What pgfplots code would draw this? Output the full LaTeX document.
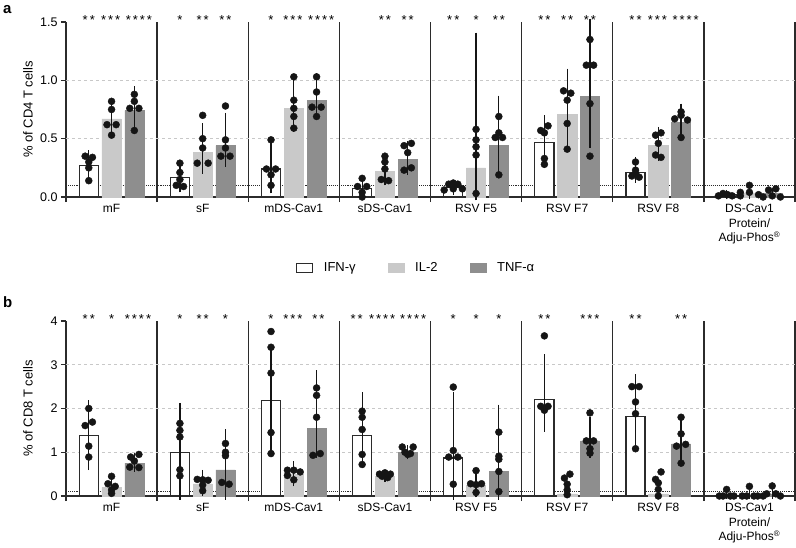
\documentclass[border=0pt]{standalone}
\usepackage{pgfplots}
\pgfplotsset{compat=1.18}
\usepackage{pgfplotstable}
\usepackage{fontspec}
\setmainfont{Liberation Sans}
\definecolor{ilc}{HTML}{C9C9C9}
\definecolor{tnc}{HTML}{8E8E8E}
\definecolor{axc}{HTML}{2B2B2B}
\definecolor{dotc}{HTML}{151515}
\definecolor{gridc}{HTML}{C8C8C8}

% bars: group, mean, error plus, error minus for IFN-g, IL-2, TNF-a
\pgfplotstableread{
g ifn ifnp ifnm il ilp ilm tnf tnfp tnfm
0 0.27 0.10 0.10 0.67 0.12 0.12 0.74 0.18 0.13
1 0.17 0.10 0.10 0.38 0.22 0.15 0.44 0.25 0.15
2 0.24 0.19 0.18 0.76 0.23 0.17 0.83 0.20 0.14
3 0.07 0.06 0.06 0.22 0.11 0.09 0.32 0.13 0.10
4 0.08 0.03 0.03 0.25 1.13 0.25 0.44 0.40 0.20
5 0.47 0.20 0.19 0.71 0.36 0.25 0.86 0.64 0.41
6 0.21 0.10 0.06 0.44 0.13 0.10 0.64 0.13 0.10
7 0.02 0.01 0.01 0.03 0.02 0.02 0.03 0.02 0.02
}\barsA
\pgfplotstableread{
g ifn ifnp ifnm il ilp ilm tnf tnfp tnfm
0 1.39 0.72 0.72 0.20 0.12 0.12 0.75 0.15 0.12
1 0.99 1.06 0.99 0.28 0.24 0.20 0.60 0.85 0.60
2 2.19 1.20 1.15 0.49 0.23 0.19 1.55 1.24 0.60
3 1.39 0.90 0.55 0.45 0.05 0.05 1.00 0.08 0.08
4 0.87 1.43 0.87 0.25 0.20 0.20 0.56 1.45 0.56
5 2.21 0.95 0.66 0.05 0.00 0.00 1.26 0.47 0.30
6 1.82 0.88 0.59 0.05 0.00 0.00 1.19 0.60 0.40
7 0.03 0.02 0.02 0.03 0.02 0.02 0.05 0.03 0.03
}\barsB

% individual animals: group, bar (-1 IFN, 0 IL-2, 1 TNF), jitter, value
\pgfplotstableread{
g b j y
0 -1 -0.04 0.35
0 -1 0.04 0.34
0 -1 0 0.30
0 -1 0 0.25
0 -1 0 0.14
0 0 0 0.82
0 0 0 0.75
0 0 -0.05 0.62
0 0 0.05 0.62
0 0 0 0.53
0 1 0 0.88
0 1 0 0.82
0 1 -0.05 0.76
0 1 0.05 0.76
0 1 0 0.57
1 -1 0 0.29
1 -1 0 0.21
1 -1 0 0.15
1 -1 -0.04 0.10
1 -1 0.04 0.09
1 0 0 0.70
1 0 0 0.50
1 0 0 0.42
1 0 -0.06 0.29
1 0 0.06 0.29
1 1 0 0.78
1 1 0 0.49
1 1 0 0.42
1 1 -0.05 0.35
1 1 0.05 0.35
2 -1 0 0.49
2 -1 -0.05 0.24
2 -1 0.05 0.24
2 -1 0 0.19
2 -1 0 0.10
2 0 0 1.03
2 0 0 0.83
2 0 0 0.76
2 0 0 0.69
2 0 0 0.59
2 1 0 1.03
2 1 0 0.90
2 1 -0.05 0.77
2 1 0.05 0.77
2 1 0 0.69
3 -1 0 0.16
3 -1 -0.05 0.09
3 -1 0.05 0.09
3 -1 0 0.04
3 -1 0 0.00
3 0 0 0.35
3 0 0 0.30
3 0 0 0.24
3 0 -0.04 0.15
3 0 0.04 0.14
3 1 0.04 0.46
3 1 -0.04 0.44
3 1 0 0.38
3 1 0.04 0.25
3 1 -0.04 0.23
4 -1 -0.1 0.06
4 -1 -0.05 0.11
4 -1 0 0.12
4 -1 0.05 0.11
4 -1 0 0.07
4 -1 0.1 0.07
4 0 0 0.58
4 0 0 0.49
4 0 0 0.43
4 0 0 0.36
4 0 0 0.03
4 1 0 0.69
4 1 0 0.55
4 1 -0.04 0.51
4 1 0.04 0.51
4 1 0 0.19
5 -1 0.04 0.61
5 -1 -0.04 0.57
5 -1 0 0.55
5 -1 0 0.33
5 -1 0 0.28
5 0 -0.04 0.91
5 0 0.04 0.89
5 0 0 0.83
5 0 0 0.63
5 0 0 0.41
5 1 0 1.35
5 1 -0.04 1.13
5 1 0.04 1.13
5 1 0 0.80
5 1 0 0.35
6 -1 0 0.30
6 -1 0 0.23
6 -1 0 0.20
6 -1 -0.04 0.18
6 -1 0.04 0.17
6 0 0.03 0.55
6 0 -0.03 0.53
6 0 0 0.46
6 0 -0.03 0.36
6 0 0.03 0.34
6 1 0 0.73
6 1 0 0.70
6 1 -0.07 0.67
6 1 0.07 0.66
6 1 0 0.51
7 -1 -0.09 0.01
7 -1 -0.04 0.03
7 -1 0.01 0.02
7 -1 0.06 0.01
7 -1 0.15 0.04
7 -1 0.15 0.01
7 0 0 0.10
7 0 0 0.04
7 0 0.10 0.02
7 0 0.15 0.00
7 1 -0.04 0.06
7 1 0.04 0.07
7 1 0 0.01
7 1 0.09 0.00
}\dotsA
\pgfplotstableread{
g b j y
0 -1 0 2.00
0 -1 0.04 1.69
0 -1 -0.04 1.61
0 -1 0 1.14
0 -1 0 0.89
0 0 0 0.45
0 0 -0.04 0.28
0 0 0.04 0.22
0 0 0 0.14
0 0 0 0.06
0 1 0.05 0.95
0 1 -0.04 0.89
0 1 0 0.80
0 1 -0.05 0.66
0 1 0.05 0.65
1 -1 0 1.66
1 -1 0 1.50
1 -1 0 1.35
1 -1 0 0.60
1 -1 0 0.46
1 0 -0.06 0.38
1 0 0 0.37
1 0 0.06 0.36
1 0 0 0.25
1 0 0 0.12
1 1 0 1.20
1 1 0 1.00
1 1 0 0.92
1 1 -0.04 0.31
1 1 0.04 0.27
2 -1 0 3.76
2 -1 0 3.40
2 -1 0 2.81
2 -1 0 1.45
2 -1 0 0.97
2 0 -0.07 0.59
2 0 -0.07 0.47
2 0 0 0.59
2 0 0.07 0.55
2 0 0 0.37
2 1 0 2.47
2 1 0 2.30
2 1 0 1.80
2 1 0.04 0.97
2 1 -0.04 0.93
3 -1 0 1.94
3 -1 0 1.80
3 -1 0 1.52
3 -1 0 0.95
3 -1 0 0.72
3 0 0 0.53
3 0 -0.06 0.50
3 0 0.06 0.50
3 0 -0.03 0.45
3 0 0.03 0.42
3 1 -0.06 1.12
3 1 0.06 1.12
3 1 -0.03 1.00
3 1 0.03 0.97
3 1 0 0.95
4 -1 0 2.49
4 -1 0 1.04
4 -1 -0.05 0.89
4 -1 0.05 0.89
4 -1 0 0.27
4 0 0 0.58
4 0 -0.06 0.28
4 0 0.06 0.28
4 0 0 0.26
4 0 0 0.08
4 1 0 1.46
4 1 0 0.91
4 1 0 0.84
4 1 0 0.56
4 1 0 0.10
5 -1 0 3.66
5 -1 -0.04 2.05
5 -1 0.04 2.05
5 -1 0 2.00
5 -1 0 1.96
5 0 0.03 0.50
5 0 -0.03 0.41
5 0 0 0.27
5 0 0 0.14
5 0 0 0.03
5 1 0 1.90
5 1 -0.04 1.26
5 1 0.04 1.26
5 1 0 1.08
5 1 0 0.98
6 -1 -0.04 2.50
6 -1 0.04 2.50
6 -1 0 2.15
6 -1 0 1.88
6 -1 0 1.08
6 0 0.03 0.55
6 0 -0.03 0.38
6 0 0 0.30
6 0 0 0.15
6 0 0 0.00
6 1 0 1.80
6 1 0 1.42
6 1 0.05 1.18
6 1 -0.05 1.14
6 1 0 0.75
7 -1 -0.08 0.00
7 -1 -0.04 0.00
7 -1 0 0.15
7 -1 0.04 0.00
7 -1 0.08 0.00
7 0 -0.08 0.00
7 0 -0.03 0.00
7 0 0 0.22
7 0 0.05 0.00
7 0 0.09 0.00
7 1 -0.1 0.00
7 1 -0.06 0.05
7 1 0 0.23
7 1 0.04 0.05
7 1 0.09 0.00
}\dotsB

\newcommand\tfont{\fontsize{12.5}{14}\selectfont}
\newcommand\cfont{\fontsize{12}{14.5}\selectfont}
\newcommand\lfont{\fontsize{13}{15}\selectfont}
\newcommand\sfont{\fontsize{13}{14}\selectfont}

\pgfplotsset{
  panel/.style={
    scale only axis, width=729pt, height=175pt,
    xmin=-0.5, xmax=7.5, ymin=0,
    axis lines*=left,
    axis line style={axc, line width=1.3pt},
    clip=false,
    /pgf/number format/assume math mode=true,
    xtick={-0.5,0.5,1.5,2.5,3.5,4.5,5.5,6.5,7.5},
    xticklabels={},
    xmajorgrids,
    x grid style={axc, line width=1.3pt},
    tick align=outside, major tick length=5pt,
    tick style={axc, line width=1.3pt},
    extra x ticks={0,1,2,3,4,5,6,7},
    extra x tick labels={mF,sF,mDS-Cav1,sDS-Cav1,RSV F5,RSV F7,RSV F8,{DS-Cav1\\Protein/\\Adju-Phos\textsuperscript{\textregistered}}},
    extra x tick style={major tick length=0pt, grid=none},
    xticklabel style={font=\cfont, align=center, anchor=north, yshift=-4pt},
    yticklabel style={font=\tfont},
    y grid style={gridc, dashed, line width=0.9pt},
    extra y tick style={grid=major, major tick length=0pt},
    extra y tick labels={},
    ylabel style={font=\lfont, at={(axis description cs:-0.052,0.5)}, anchor=center},
  },
  sqleg/.style={legend image code/.code={\draw[##1] (0pt,-4.5pt) rectangle (16pt,4.5pt);}},
  errsty/.style={/pgfplots/error bars/y dir=both, /pgfplots/error bars/y explicit,
    /pgfplots/error bars/error bar style={draw=dotc, line width=1.3pt},
    /pgfplots/error bars/error mark options={draw=dotc, line width=1.3pt, mark size=3.5pt}},
  ifnbar/.style={ybar, bar width=0.21, bar shift=0pt, fill=white, draw=axc, line width=1.3pt, sqleg, errsty},
  ilbar/.style={ybar, bar width=0.21, bar shift=0pt, fill=ilc, draw=ilc, line width=0.5pt, sqleg, errsty},
  tnbar/.style={ybar, bar width=0.21, bar shift=0pt, fill=tnc, draw=tnc, line width=0.5pt, sqleg, errsty},
  dotsty/.style={only marks, mark=*, mark size=3.5pt, mark options={fill=dotc, draw=dotc}, forget plot},
}

% significance stars (annotation text)
\newcommand\st[3]{\node[font=\sfont, anchor=base, inner sep=0pt, yshift=-2.5pt] at (axis cs:#1,#2) {#3};}
\newcommand\sgA{*}
\newcommand\sgB{*\kern2pt*}
\newcommand\sgC{*\kern2pt*\kern2pt*}
\newcommand\sgD{*\kern2pt*\kern2pt*\kern2pt*}

\begin{document}
\begin{tikzpicture}
\useasboundingbox (0,0) rectangle (796pt,547pt);
\node[anchor=north west, font=\bfseries\fontsize{15}{15}\selectfont, inner sep=0pt] at (3pt,542pt) {a};
\node[anchor=north west, font=\bfseries\fontsize{15}{15}\selectfont, inner sep=0pt] at (3pt,251pt) {b};

% ---------- panel a ----------
\begin{axis}[panel, at={(66pt,350pt)}, anchor=south west,
  ymax=1.5, ytick={0,0.5,1,1.5}, yticklabels={0.0,0.5,1.0,1.5},
  extra y ticks={0.5,1},
  ylabel={\% of CD4 T cells},
  legend style={at={(0.48,-0.406)}, anchor=center, legend columns=3, draw=none, fill=none,
    font=\lfont,
    /tikz/every odd column/.append style={column sep=9pt},
    /tikz/every even column/.append style={column sep=30pt}},
  legend cell align=left]
\addplot[forget plot, axc, densely dotted, line width=1.1pt] coordinates {(-0.5,0.1) (7.5,0.1)};
\addplot[ifnbar] table[x expr=\thisrow{g}-0.25, y=ifn, y error plus=ifnp, y error minus=ifnm]{\barsA};
\addlegendentry{IFN-γ}
\addplot[ilbar] table[x expr=\thisrow{g}, y=il, y error plus=ilp, y error minus=ilm]{\barsA};
\addlegendentry{IL-2}
\addplot[tnbar] table[x expr=\thisrow{g}+0.25, y=tnf, y error plus=tnfp, y error minus=tnfm]{\barsA};
\addlegendentry{TNF-α}
\addplot[dotsty] table[x expr=\thisrow{g}+0.25*\thisrow{b}+\thisrow{j}, y=y]{\dotsA};
\st{-0.25}{1.5}{\sgB}\st{-0.01}{1.5}{\sgC}\st{0.3}{1.5}{\sgD}
\st{0.75}{1.5}{\sgA}\st{1}{1.5}{\sgB}\st{1.25}{1.5}{\sgB}
\st{1.75}{1.5}{\sgA}\st{1.99}{1.5}{\sgC}\st{2.3}{1.5}{\sgD}
\st{3}{1.5}{\sgB}\st{3.25}{1.5}{\sgB}
\st{3.75}{1.5}{\sgB}\st{4}{1.5}{\sgA}\st{4.25}{1.5}{\sgB}
\st{4.75}{1.5}{\sgB}\st{5}{1.5}{\sgB}\st{5.25}{1.5}{\sgB}
\st{5.75}{1.5}{\sgB}\st{5.99}{1.5}{\sgC}\st{6.3}{1.5}{\sgD}
\end{axis}

% ---------- panel b ----------
\begin{axis}[panel, at={(66pt,51pt)}, anchor=south west,
  ymax=4, ytick={0,1,2,3,4}, yticklabels={0,1,2,3,4},
  extra y ticks={1,2,3},
  ylabel={\% of CD8 T cells}]
\addplot[forget plot, axc, densely dotted, line width=1.1pt] coordinates {(-0.5,0.1) (7.5,0.1)};
\addplot[forget plot, ifnbar] table[x expr=\thisrow{g}-0.25, y=ifn, y error plus=ifnp, y error minus=ifnm]{\barsB};
\addplot[forget plot, ilbar] table[x expr=\thisrow{g}, y=il, y error plus=ilp, y error minus=ilm]{\barsB};
\addplot[forget plot, tnbar] table[x expr=\thisrow{g}+0.25, y=tnf, y error plus=tnfp, y error minus=tnfm]{\barsB};
\addplot[dotsty] table[x expr=\thisrow{g}+0.25*\thisrow{b}+\thisrow{j}, y=y]{\dotsB};
\st{-0.25}{4}{\sgB}\st{0}{4}{\sgA}\st{0.29}{4}{\sgD}
\st{0.75}{4}{\sgA}\st{1}{4}{\sgB}\st{1.25}{4}{\sgA}
\st{1.75}{4}{\sgA}\st{1.99}{4}{\sgC}\st{2.27}{4}{\sgB}
\st{2.69}{4}{\sgB}\st{2.97}{4}{\sgD}\st{3.31}{4}{\sgD}
\st{3.75}{4}{\sgA}\st{4}{4}{\sgA}\st{4.25}{4}{\sgA}
\st{4.75}{4}{\sgB}\st{5.25}{4}{\sgC}
\st{5.75}{4}{\sgB}\st{6.25}{4}{\sgB}
\end{axis}
\end{tikzpicture}
\end{document}
